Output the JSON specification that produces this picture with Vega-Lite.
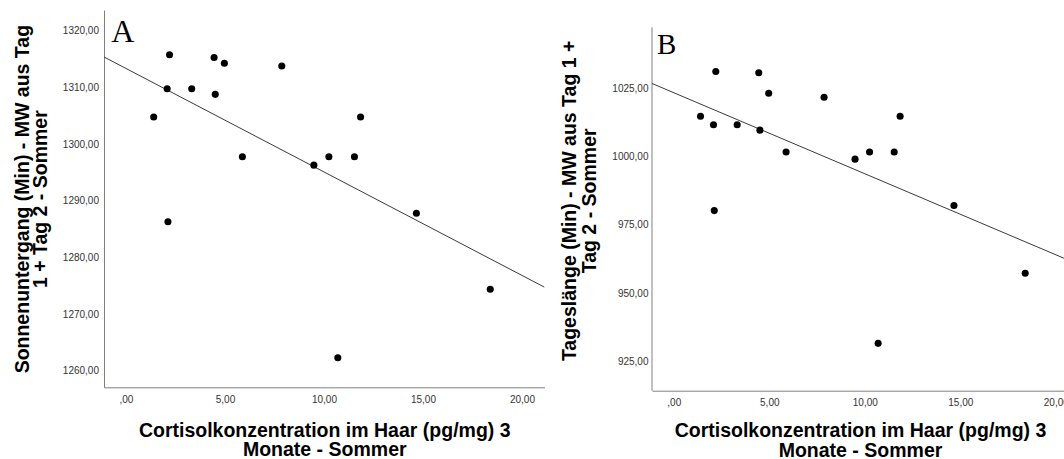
{
  "$schema": "https://vega.github.io/schema/vega-lite/v6.json",
  "padding": {"left": 12, "top": 10, "right": 0, "bottom": 0},
  "spacing": 14,
  "background": "white",
  "config": {
    "view": {"stroke": null},
    "font": "Liberation Sans",
    "axis": {
      "domainColor": "#808080",
      "domainWidth": 1,
      "ticks": false,
      "grid": false,
      "labelFont": "Liberation Sans",
      "labelFontSize": 10,
      "labelColor": "#333333",
      "titleFont": "Liberation Sans",
      "titleFontSize": 19.5,
      "titleFontWeight": "bold",
      "titleColor": "#000000",
      "titleLineHeight": 19.5
    }
  },
  "datasets": {
    "d": [
      {"cortisol": 1.40, "sunset": 1304.8, "daylength": 1014.7},
      {"cortisol": 2.08, "sunset": 1309.8, "daylength": 1011.6},
      {"cortisol": 2.20, "sunset": 1315.8, "daylength": 1031.0},
      {"cortisol": 2.12, "sunset": 1286.3, "daylength": 980.2},
      {"cortisol": 3.32, "sunset": 1309.8, "daylength": 1011.6},
      {"cortisol": 4.45, "sunset": 1315.3, "daylength": 1030.6},
      {"cortisol": 4.97, "sunset": 1314.3, "daylength": 1023.1},
      {"cortisol": 4.51, "sunset": 1308.8, "daylength": 1009.6},
      {"cortisol": 5.88, "sunset": 1297.8, "daylength": 1001.6},
      {"cortisol": 7.87, "sunset": 1313.8, "daylength": 1021.6},
      {"cortisol": 9.49, "sunset": 1296.3, "daylength": 999.0},
      {"cortisol": 10.25, "sunset": 1297.8, "daylength": 1001.6},
      {"cortisol": 10.70, "sunset": 1262.3, "daylength": 931.7},
      {"cortisol": 11.54, "sunset": 1297.8, "daylength": 1001.6},
      {"cortisol": 11.85, "sunset": 1304.8, "daylength": 1014.7},
      {"cortisol": 14.67, "sunset": 1287.8, "daylength": 982.1},
      {"cortisol": 18.40, "sunset": 1274.4, "daylength": 957.3}
    ]
  },
  "hconcat": [
    {
      "width": 440.5,
      "height": 377.3,
      "data": {"name": "d"},
      "encoding": {
        "x": {
          "field": "cortisol", "type": "quantitative",
          "scale": {"domain": [-1.11, 21.14], "nice": false, "zero": false},
          "axis": {
            "values": [0, 5, 10, 15, 20],
            "labelExpr": "datum.value == 0 ? ',00' : replace(format(datum.value, '.2f'), '.', ',')",
            "labelPadding": 7,
            "titlePadding": 17,
            "title": ["Cortisolkonzentration im Haar (pg/mg) 3", "Monate - Sommer"]
          }
        },
        "y": {
          "field": "sunset", "type": "quantitative",
          "scale": {"domain": [1257.07, 1323.7], "nice": false, "zero": false},
          "axis": {
            "values": [1260, 1270, 1280, 1290, 1300, 1310, 1320],
            "labelExpr": "replace(format(datum.value, '.2f'), '.', ',')",
            "labelPadding": 5.5,
            "titlePadding": 12,
            "titleLineHeight": 18,
            "title": ["Sonnenuntergang (Min) - MW aus Tag", "1 + Tag 2 - Sommer"]
          }
        }
      },
      "layer": [
        {
          "transform": [{"regression": "sunset", "on": "cortisol", "extent": [-1.11, 21.14]}],
          "mark": {"type": "line", "color": "#3a3a3a", "strokeWidth": 1, "clip": true}
        },
        {
          "mark": {"type": "circle", "color": "#000000", "opacity": 1, "size": 50}
        },
        {
          "transform": [{"filter": "datum.cortisol == 18.4"}],
          "mark": {"type": "text", "font": "Liberation Serif", "fontSize": 32, "align": "left", "baseline": "alphabetic", "color": "#000000", "text": "A"},
          "encoding": {
            "x": {"datum": -0.75, "type": "quantitative"},
            "y": {"datum": 1318.1, "type": "quantitative"}
          }
        }
      ]
    },
    {
      "width": 416,
      "height": 380.7,
      "data": {"name": "d"},
      "encoding": {
        "x": {
          "field": "cortisol", "type": "quantitative",
          "scale": {"domain": [-1.14, 20.64], "nice": false, "zero": false},
          "axis": {
            "values": [0, 5, 10, 15, 20],
            "labelExpr": "datum.value == 0 ? ',00' : replace(format(datum.value, '.2f'), '.', ',')",
            "labelPadding": 7,
            "titlePadding": 14,
            "title": ["Cortisolkonzentration im Haar (pg/mg) 3", "Monate - Sommer"]
          }
        },
        "y": {
          "field": "daylength", "type": "quantitative",
          "scale": {"domain": [914.4, 1053.5], "nice": false, "zero": false},
          "axis": {
            "domain": false,
            "values": [925, 950, 975, 1000, 1025],
            "labelExpr": "replace(format(datum.value, '.2f'), '.', ',')",
            "labelPadding": 4,
            "titlePadding": 12,
            "titleLineHeight": 20,
            "title": ["Tageslänge (Min) - MW aus Tag 1 +", "Tag 2 - Sommer"]
          }
        }
      },
      "layer": [
        {
          "transform": [{"filter": "datum.cortisol == 18.4"}],
          "mark": {"type": "rule", "color": "#808080", "strokeWidth": 1},
          "encoding": {
            "x": {"datum": -1.14, "type": "quantitative"},
            "y": {"datum": 914.4, "type": "quantitative"},
            "y2": {"datum": 1047.2}
          }
        },
        {
          "transform": [{"regression": "daylength", "on": "cortisol", "extent": [-1.14, 20.64]}],
          "mark": {"type": "line", "color": "#3a3a3a", "strokeWidth": 1, "clip": true}
        },
        {
          "mark": {"type": "circle", "color": "#000000", "opacity": 1, "size": 50}
        },
        {
          "transform": [{"filter": "datum.cortisol == 18.4"}],
          "mark": {"type": "text", "font": "Liberation Serif", "fontSize": 29, "align": "left", "baseline": "alphabetic", "color": "#000000", "text": "B"},
          "encoding": {
            "x": {"datum": -0.88, "type": "quantitative"},
            "y": {"datum": 1037.3, "type": "quantitative"}
          }
        }
      ]
    }
  ]
}
